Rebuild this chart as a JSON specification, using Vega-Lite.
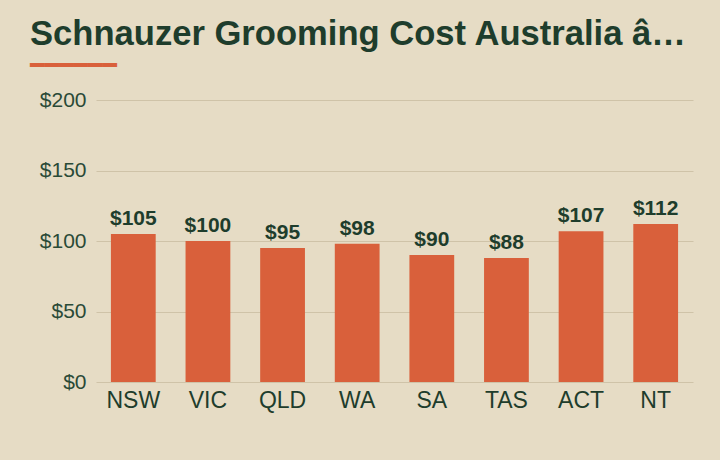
{
  "$schema": "https://vega.github.io/schema/vega-lite/v6.json",
  "autosize": "none",
  "width": 597,
  "height": 282,
  "padding": {"left": 96, "top": 100, "right": 27, "bottom": 78},
  "background": "#e6dcc5",
  "title": {
    "text": "Schnauzer Grooming Cost Australia â…",
    "subtitle": "━━━━━━",
    "anchor": "start",
    "frame": "group",
    "dx": -66,
    "font": "Liberation Sans",
    "fontSize": 34.6,
    "fontWeight": "bold",
    "color": "#1e3d2c",
    "subtitleFont": "DejaVu Sans",
    "subtitleFontSize": 24,
    "subtitleColor": "#d9603b",
    "subtitlePadding": 1,
    "offset": 10
  },
  "data": {
    "values": [
      {"state": "NSW", "cost": 105},
      {"state": "VIC", "cost": 100},
      {"state": "QLD", "cost": 95},
      {"state": "WA", "cost": 98},
      {"state": "SA", "cost": 90},
      {"state": "TAS", "cost": 88},
      {"state": "ACT", "cost": 107},
      {"state": "NT", "cost": 112}
    ]
  },
  "encoding": {
    "x": {
      "field": "state",
      "type": "nominal",
      "sort": null,
      "scale": {"paddingInner": 0.4, "paddingOuter": 0.2},
      "axis": {
        "title": null,
        "labelAngle": 0,
        "labelFont": "Liberation Sans",
        "labelFontSize": 23,
        "labelColor": "#1e3d2c",
        "labelPadding": 7,
        "ticks": false,
        "domain": false,
        "grid": false
      }
    },
    "y": {
      "field": "cost",
      "type": "quantitative",
      "scale": {"domain": [0, 200]},
      "axis": {
        "title": null,
        "values": [0, 50, 100, 150, 200],
        "format": "$.0f",
        "labelFont": "Liberation Sans",
        "labelFontSize": 21,
        "labelColor": "#2a4a37",
        "labelPadding": 10,
        "ticks": false,
        "domain": false,
        "grid": true,
        "gridColor": "#cfc3a8",
        "gridWidth": 1
      }
    }
  },
  "layer": [
    {"mark": {"type": "bar", "color": "#d9603b"}},
    {
      "mark": {
        "type": "text",
        "baseline": "bottom",
        "dy": -5,
        "font": "Liberation Sans",
        "fontSize": 21,
        "fontWeight": "bold",
        "color": "#1e3d2c"
      },
      "encoding": {"text": {"field": "cost", "type": "quantitative", "format": "$.0f"}}
    }
  ],
  "config": {"view": {"stroke": null}}
}
